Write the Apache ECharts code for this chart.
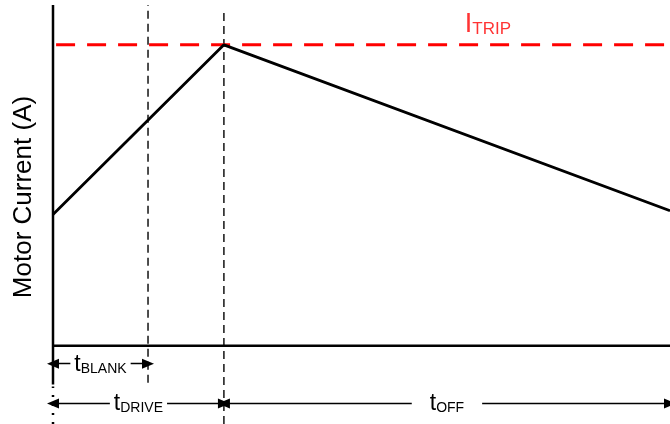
<!DOCTYPE html>
<html>
<head>
<meta charset="utf-8">
<script src="https://cdn.jsdelivr.net/npm/echarts@6/dist/echarts.min.js"></script>
<style>
  html, body { margin: 0; padding: 0; background: #fff; }
  #main { width: 670px; height: 424px; }
</style>
</head>
<body>
<div id="main"></div>
<script>
// time points (arbitrary units) and motor current (A, arbitrary units)
const timeX = [0, 2.77, 10];
const currentY = [3.85, 8.83, 3.96];
const iTrip = 8.83;
const tBlank = 1.54;
const tDrive = 2.77;
const tEnd = 10;
// annotation rows (below the time axis)
const blankRowY = -0.53;
const driveRowY = -1.7;
const yMin = -2.3, yMax = 10;

var chartDom = document.getElementById('main');
var myChart = echarts.init(chartDom);

const font = 'Liberation Sans, Arial, sans-serif';
const black = '#000';

function sub(main, s) {
  return '{m|' + main + '}{s|' + s + '}';
}
const richT = {
  m: { fontSize: 23, color: black, fontFamily: font, verticalAlign: 'bottom', lineHeight: 24 },
  s: { fontSize: 14, color: black, fontFamily: font, verticalAlign: 'bottom', lineHeight: 20 }
};

function arrowLabel(text, pad) {
  return {
    show: true,
    position: 'insideMiddle',
    formatter: text,
    rich: richT,
    backgroundColor: '#fff',
    padding: [0, pad, 0, pad],
    distance: 0
  };
}

var option = {
  backgroundColor: '#fff',
  animation: false,
  grid: { left: 53, right: 0, top: 5, bottom: 0 },
  xAxis: {
    type: 'value', min: 0, max: tEnd,
    axisLine: { show: false }, axisTick: { show: false },
    axisLabel: { show: false }, splitLine: { show: false }
  },
  yAxis: {
    type: 'value', min: yMin, max: yMax,
    axisLine: { show: false }, axisTick: { show: false },
    axisLabel: { show: false }, splitLine: { show: false }
  },
  graphic: [{
    type: 'text',
    x: 24, y: 197,
    rotation: Math.PI / 2,
    style: {
      text: 'Motor Current (A)',
      fontSize: 26, fontFamily: font, fill: black,
      textAlign: 'center', textVerticalAlign: 'middle'
    }
  }],
  series: [
    {
      // time axis
      type: 'line', symbol: 'none', silent: true,
      data: [[0, 0], [tEnd, 0]],
      lineStyle: { color: black, width: 2.5 }
    },
    {
      // current axis (solid part)
      type: 'line', symbol: 'none', silent: true,
      data: [[0, -1.14], [0, yMax]],
      lineStyle: { color: black, width: 2.5 }
    },
    {
      // current axis (dotted extension)
      type: 'line', symbol: 'none', silent: true,
      data: [[0, yMin], [0, -1.2]],
      lineStyle: { color: black, width: 2.5, type: [2, 7] }
    },
    {
      // tBLANK marker
      type: 'line', symbol: 'none', silent: true,
      data: [[tBlank, -1.09], [tBlank, yMax]],
      lineStyle: { color: black, width: 1.4, type: [8, 5] }
    },
    {
      // tDRIVE marker
      type: 'line', symbol: 'none', silent: true,
      data: [[tDrive, yMin], [tDrive, 9.8]],
      lineStyle: { color: black, width: 1.4, type: [8, 5] }
    },
    {
      // I_TRIP threshold
      type: 'line', symbol: 'none', silent: true,
      data: [[0.05, iTrip], [tEnd, iTrip]],
      lineStyle: { color: '#ff0000', width: 3, type: [19, 12] }
    },
    {
      // motor current
      name: 'Motor Current', type: 'line', symbol: 'none', silent: true,
      data: timeX.map((x, i) => [x, currentY[i]]),
      lineStyle: { color: black, width: 2.8 }
    },
    {
      // I_TRIP label
      type: 'scatter', symbolSize: 0, silent: true,
      data: [[7.05, 9.45]],
      label: {
        show: true, position: 'inside',
        formatter: '{m|I}{s|TRIP}',
        rich: {
          m: { fontSize: 27, color: '#ff0000', fontFamily: font, verticalAlign: 'bottom', lineHeight: 28 },
          s: { fontSize: 17, color: '#ff0000', fontFamily: font, verticalAlign: 'bottom', lineHeight: 22 }
        }
      }
    },
    {
      // time interval arrows
      type: 'line', data: [], silent: true,
      markLine: {
        silent: true,
        animation: false,
        symbol: ['triangle', 'triangle'],
        symbolSize: [10, 12],
        lineStyle: { color: black, width: 1.4, type: 'solid' },
        data: [
          [
            { coord: [0, blankRowY], label: arrowLabel(sub('t', 'BLANK'), 4) },
            { coord: [tBlank, blankRowY] }
          ],
          [
            { coord: [0, driveRowY], label: arrowLabel(sub('t', 'DRIVE'), 4) },
            { coord: [tDrive, driveRowY] }
          ],
          [
            { coord: [tDrive, driveRowY], label: arrowLabel(sub('t', 'OFF'), 18) },
            { coord: [tEnd, driveRowY] }
          ]
        ]
      }
    }
  ]
};
myChart.setOption(option);
</script>
</body>
</html>
